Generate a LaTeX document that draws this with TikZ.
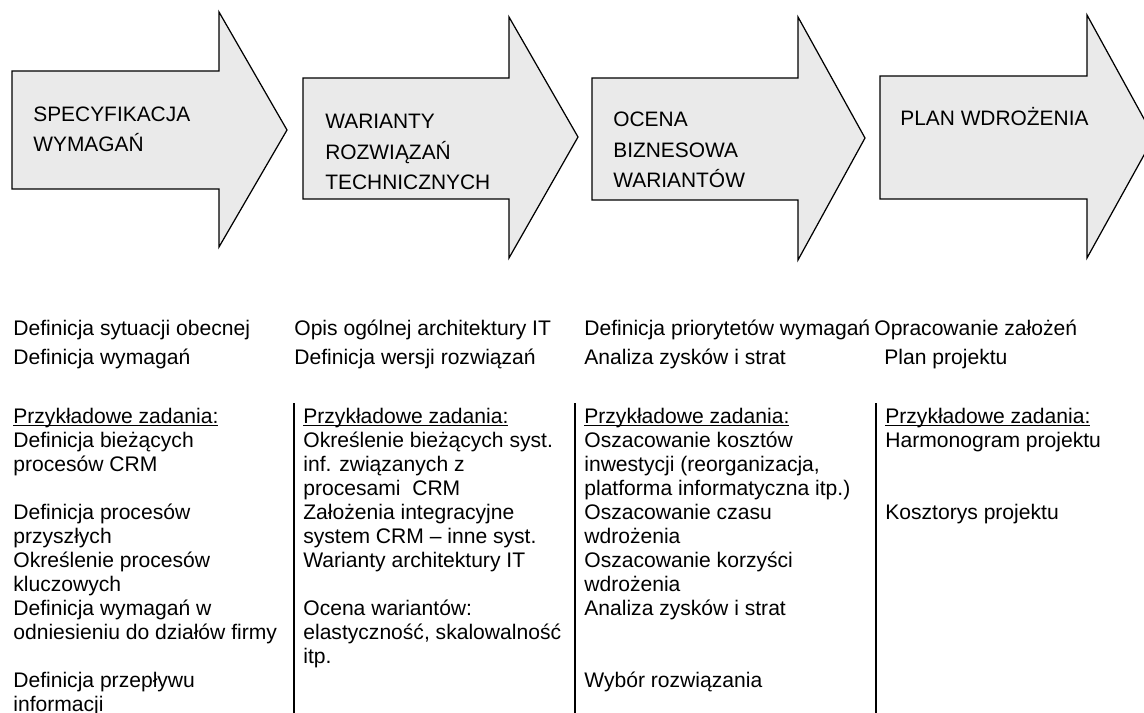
\documentclass[tikz,border=0pt]{standalone}
\usepackage{fontspec}
\setmainfont{Liberation Sans}
\definecolor{strzalka}{RGB}{234,234,234}
\newsavebox{\podkrbox}
\newcommand{\podkresl}[1]{\sbox\podkrbox{#1}\rlap{\rule[-1.7pt]{\wd\podkrbox}{0.7pt}}\usebox\podkrbox}
\begin{document}
\begin{tikzpicture}[x=0.02cm, y=-0.02cm,
		etap/.style={draw=black, fill=strzalka, line width=0.7pt, line join=miter},
		tytul/.style={anchor=base west, align=left, inner sep=0pt, font=\fontsize{11.9pt}{17.6pt}\selectfont},
		opis/.style={anchor=base west, align=left, inner sep=0pt, font=\fontsize{12pt}{13.66pt}\selectfont},
		kreska/.style={line width=1.1pt}]
		
		% Rozmiar rysunku
		\useasboundingbox (0,0) rectangle (1144,713);
		\clip (0,0) rectangle (1144,713);
		
		% Strzalki etapow
		\foreach \lx/\ty/\by/\nx/\hy/\hz/\px/\py in {12/71/189/219/12/247/287/130, 303/78/199/509/17/258/578/137, 592/78/200/798/17/260/865/138, 880/76/199/1087/15/258/1154/137}
		\filldraw[etap] (\lx,\ty) -- (\nx,\ty) -- (\nx,\hy) -- (\px,\py) -- (\nx,\hz) -- (\nx,\by) -- (\lx,\by) -- cycle;
		
		% Nazwy etapow (punkt bazowy = ostatni wiersz)
		\node[tytul] (spec) at (33,152) {SPECYFIKACJA\\WYMAGAŃ};
		\node[tytul] (warianty) at (325,190) {WARIANTY\\ROZWIĄZAŃ\\TECHNICZNYCH};
		\node[tytul] (ocena) at (613,188) {OCENA\\BIZNESOWA\\WARIANTÓW};
		\node[tytul] (plan) at (900,126) {PLAN WDROŻENIA};
		
		% Glowne czynnosci
		\node[opis] (spec-a) at (13,336) {Definicja sytuacji obecnej};
		\node[opis] (spec-b) at (13,364) {Definicja wymagań};
		\node[opis] (warianty-a) at (294,336) {Opis ogólnej architektury IT};
		\node[opis] (warianty-b) at (294,364) {Definicja wersji rozwiązań};
		\node[opis] (ocena-a) at (584,336) {Definicja priorytetów wymagań};
		\node[opis] (ocena-b) at (584,364) {Analiza zysków i strat};
		\node[opis] (plan-a) at (874,336) {Opracowanie założeń};
		\node[opis] (plan-b) at (884,364) {Plan projektu};
		
		% Linie rozdzielajace kolumny
		\draw[kreska] (294,403) -- (294,713);
		\draw[kreska] (575,403) -- (575,713);
		\draw[kreska] (876,403) -- (876,713);
		
		% Przykladowe zadania (punkt bazowy = ostatni wiersz)
		\node[opis] (spec-zad) at (13,711) {\podkresl{Przykładowe zadania:}\\Definicja bieżących\\procesów CRM\\~\\Definicja procesów\\przyszłych\\Określenie procesów\\kluczowych\\Definicja wymagań w\\odniesieniu do działów firmy\\~\\Definicja przepływu\\informacji};
		\node[opis] (warianty-zad) at (303,663) {\podkresl{Przykładowe zadania:}\\Określenie bieżących syst.\\inf. związanych z\\procesami\ \ CRM\\Założenia integracyjne\\system CRM – inne syst.\\Warianty architektury IT\\~\\Ocena wariantów:\\elastyczność, skalowalność\\itp.};
		\node[opis] (ocena-zad) at (584,687) {\podkresl{Przykładowe zadania:}\\Oszacowanie kosztów\\inwestycji (reorganizacja,\\platforma informatyczna itp.)\\Oszacowanie czasu\\wdrożenia\\Oszacowanie korzyści\\wdrożenia\\Analiza zysków i strat\\~\\~\\Wybór rozwiązania};
		\node[opis] (plan-zad) at (885,519) {\podkresl{Przykładowe zadania:}\\Harmonogram projektu\\~\\~\\Kosztorys projektu};
		
	\end{tikzpicture}
\end{document}
